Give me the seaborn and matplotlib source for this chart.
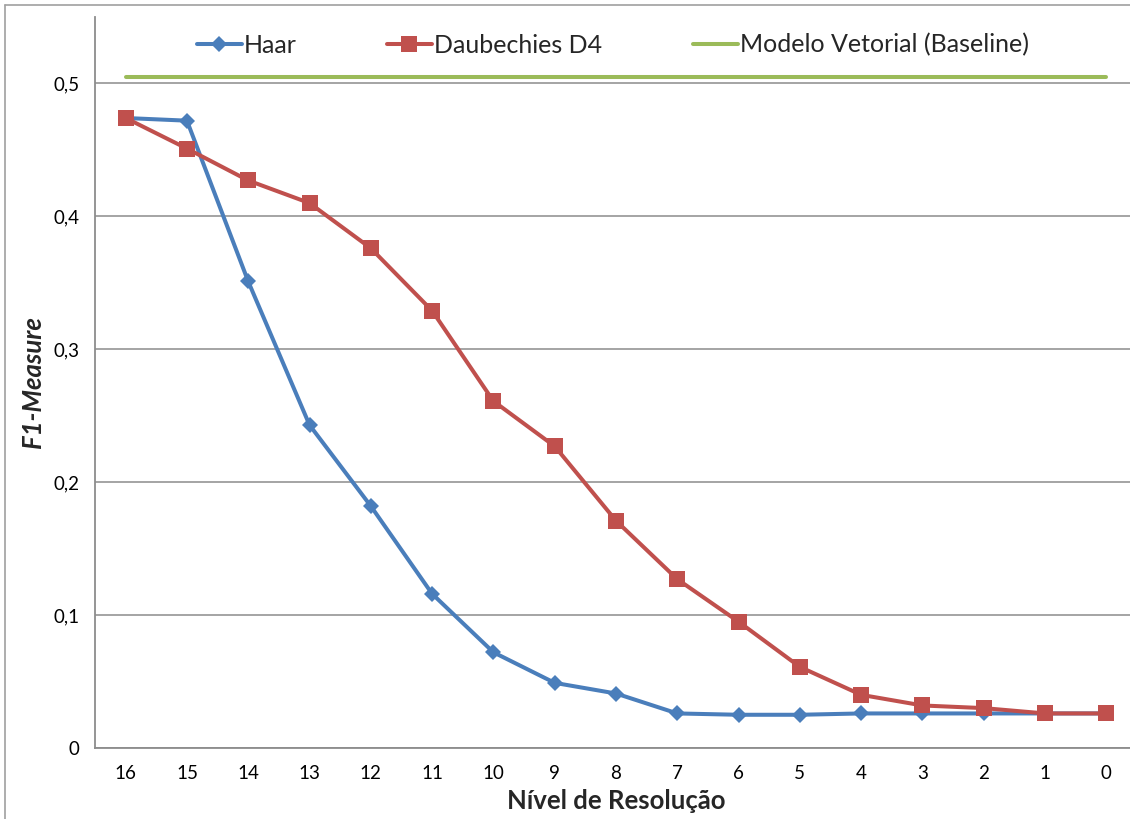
import numpy as np
import pandas as pd
import matplotlib
matplotlib.use("Agg")
import matplotlib.pyplot as plt
from matplotlib.lines import Line2D
from matplotlib.ticker import FixedLocator
import seaborn as sns

# Resolution levels (x categories, from finest to coarsest)
levels = ["16", "15", "14", "13", "12", "11", "10", "9", "8",
          "7", "6", "5", "4", "3", "2", "1", "0"]

# F1-Measure per resolution level
haar = [0.474, 0.472, 0.351, 0.243, 0.182, 0.116, 0.072, 0.049, 0.041,
        0.026, 0.025, 0.025, 0.026, 0.026, 0.026, 0.026, 0.026]
daub_d4 = [0.474, 0.451, 0.427, 0.410, 0.376, 0.329, 0.261, 0.227, 0.171,
           0.127, 0.095, 0.061, 0.040, 0.032, 0.030, 0.026, 0.026]
baseline_f1 = 0.505

y_ticks = [0.0, 0.1, 0.2, 0.3, 0.4, 0.5]
y_tick_labels = ["0", "0,1", "0,2", "0,3", "0,4", "0,5"]

series_names = ["Haar", "Daubechies D4", "Modelo Vetorial (Baseline)"]

df = pd.DataFrame({
    "nivel": levels * 3,
    "f1": haar + daub_d4 + [baseline_f1] * len(levels),
    "serie": np.repeat(series_names, len(levels)),
})

BLUE = "#4A7EBB"
RED = "#C0504D"
GREEN = "#9BBB59"
GRID = "#8C8C8C"
LW = 2.9

sns.set_theme(style="white")
plt.rcParams["font.family"] = ["Lato", "DejaVu Sans"]

W, H = 1130, 819
fig = plt.figure(figsize=(W / 100, H / 100), dpi=100)
ax = fig.add_axes([95 / W, (H - 748) / H, 1042 / W, (748 - 17) / H])

palette = {series_names[0]: BLUE, series_names[1]: RED, series_names[2]: GREEN}
markers = {series_names[0]: "D", series_names[1]: "s", series_names[2]: None}
sizes = {series_names[0]: 8.5, series_names[1]: 11, series_names[2]: 0}

for name in series_names:
    sub = df[df["serie"] == name]
    sns.lineplot(data=sub, x="nivel", y="f1", ax=ax, sort=False,
                 color=palette[name], linewidth=LW,
                 marker=markers[name],
                 markersize=sizes[name], markeredgewidth=0,
                 solid_capstyle="round", legend=False,
                 zorder=3 if name != series_names[2] else 2)

ax.set_xlim(-0.5, len(levels) - 0.5)
ax.set_ylim(0, 0.55)

# y axis: ticks, comma decimals, horizontal gridlines
ax.yaxis.set_major_locator(FixedLocator(y_ticks))
ax.set_yticklabels(y_tick_labels)
ax.grid(axis="y", color=GRID, linewidth=1.1)
ax.grid(axis="x", visible=False)
ax.set_axisbelow(True)

# x axis: tick marks at category boundaries, labels centred
ax.xaxis.set_minor_locator(FixedLocator(np.arange(-0.5, len(levels), 1.0)))
ax.tick_params(axis="x", which="major", length=0, pad=12, labelsize=13.5,
               colors="black")
ax.tick_params(axis="x", which="minor", length=5, width=1.1, color=GRID,
               direction="out")
ax.tick_params(axis="y", which="major", length=5, width=1.1, color=GRID,
               direction="out", pad=6, labelsize=13.5, labelcolor="black")

for side in ("top", "right"):
    ax.spines[side].set_visible(False)
for side in ("left", "bottom"):
    ax.spines[side].set_color(GRID)
    ax.spines[side].set_linewidth(1.3)

ax.set_xlabel("Nível de Resolução", fontsize=18.5, fontweight="bold",
              labelpad=5)
ax.set_ylabel("F1-Measure", fontsize=18.5, fontweight="bold",
              fontstyle="italic", labelpad=6)

handles = [
    Line2D([], [], color=BLUE, lw=LW, marker="D", markersize=8.5,
           markeredgewidth=0),
    Line2D([], [], color=RED, lw=LW, marker="s", markersize=11,
           markeredgewidth=0),
    Line2D([], [], color=GREEN, lw=LW),
]
fig.legend(handles, series_names, loc="center left",
           bbox_to_anchor=(174 / W, 1 - 45 / H), ncol=3, frameon=False,
           fontsize=18, handlelength=1.8, handletextpad=0.1,
           columnspacing=3.6, numpoints=1)

# outer chart border (left and top edges visible)
fig.add_artist(Line2D([5 / W, 5 / W], [0, 1 - 5 / H], color="#A0A0A0",
                      lw=1.2, transform=fig.transFigure))
fig.add_artist(Line2D([5 / W, 1], [1 - 5 / H, 1 - 5 / H], color="#A0A0A0",
                      lw=1.2, transform=fig.transFigure))

fig.savefig("out.png", dpi=100, facecolor="white")
